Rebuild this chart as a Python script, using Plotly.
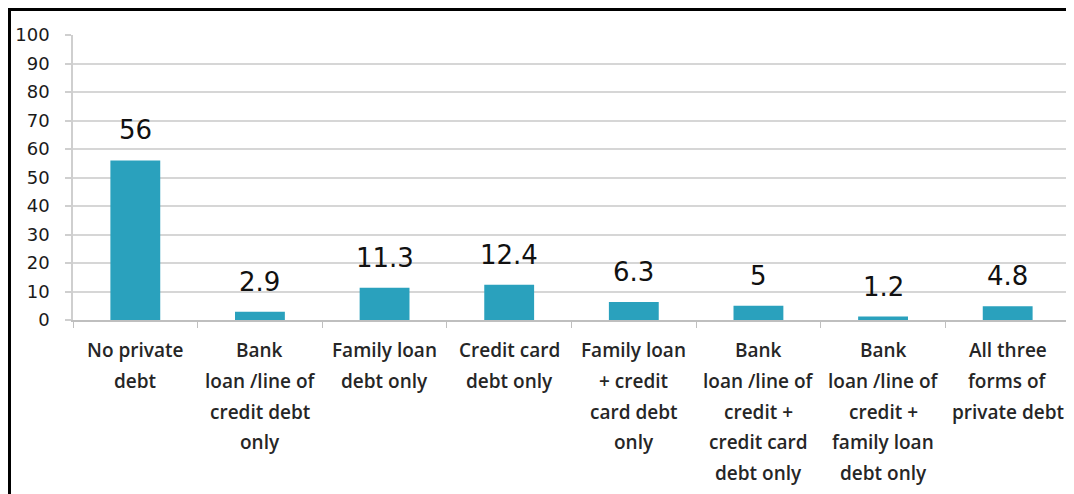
import plotly.graph_objects as go

categories = [
    "No private debt",
    "Bank loan/line of credit debt only",
    "Family loan debt only",
    "Credit card debt only",
    "Family loan + credit card debt only",
    "Bank loan/line of credit + credit card debt only",
    "Bank loan/line of credit + family loan debt only",
    "All three forms of private debt",
]
label_lines = [
    ["No private", "debt"],
    ["Bank", "loan /line of", "credit debt", "only"],
    ["Family loan", "debt only"],
    ["Credit card", "debt only"],
    ["Family loan", "+ credit", "card debt", "only"],
    ["Bank", "loan /line of", "credit +", "credit card", "debt only"],
    ["Bank", "loan /line of", "credit +", "family loan", "debt only"],
    ["All three", "forms of", "private debt"],
]
values = [56, 2.9, 11.3, 12.4, 6.3, 5, 1.2, 4.8]
value_labels = ["56", "2.9", "11.3", "12.4", "6.3", "5", "1.2", "4.8"]
y_ticks = [0, 10, 20, 30, 40, 50, 60, 70, 80, 90, 100]

# page has an 8px body margin; figure sized to fit the window
W, H = 1066, 486
ML, MR, MT, MB = 65, 4, 27, 174
PW, PH = W - ML - MR, H - MT - MB

def px_x(p):
    return (p - ML) / PW

def px_y(p):
    return (H - MB - p) / PH

fig = go.Figure()
fig.add_trace(go.Bar(
    x=categories, y=values,
    marker=dict(color="#2aa1bd", line=dict(width=0)),
    hoverinfo="x+y",
))

annotations = []
for c, v, t in zip(categories, values, value_labels):
    annotations.append(dict(
        x=c, y=v, xref="x", yref="y", text=t, showarrow=False,
        yanchor="bottom", yshift=13,
        font=dict(family="DejaVu Sans", size=26, color="#111111"),
    ))
for c, lines in zip(categories, label_lines):
    for i, ln in enumerate(lines):
        annotations.append(dict(
            x=c, y=0, xref="x", yref="y", text=ln, showarrow=False,
            yanchor="middle", yshift=-(30 + 30.8 * i),
            font=dict(family="Open Sans", size=19, color="#262626", weight=600),
        ))

fig.update_layout(
    width=W, height=H,
    margin=dict(l=ML, r=MR, t=MT, b=MB),
    paper_bgcolor="white", plot_bgcolor="white",
    bargap=0.6,
    showlegend=False,
    annotations=annotations,
    shapes=[
        dict(type="rect", xref="paper", yref="paper",
             x0=px_x(0), x1=px_x(3), y0=px_y(H), y1=px_y(0),
             fillcolor="black", line=dict(width=0), layer="above"),
        dict(type="rect", xref="paper", yref="paper",
             x0=px_x(0), x1=px_x(W), y0=px_y(3), y1=px_y(0),
             fillcolor="black", line=dict(width=0), layer="above"),
    ],
)
fig.update_xaxes(
    showticklabels=False, tickson="boundaries", ticks="outside",
    ticklen=6, tickcolor="#bfbfbf", tickwidth=1,
    showline=True, linecolor="#bfbfbf", linewidth=1.5,
    showgrid=False, zeroline=False,
)
fig.update_yaxes(
    range=[0, 100], tickvals=y_ticks,
    ticks="outside", ticklen=6, tickcolor="#cfcfcf", tickwidth=1.5,
    showline=True, linecolor="#cfcfcf", linewidth=1.5,
    showgrid=True, gridcolor="#d6d6d6", gridwidth=1.5,
    zeroline=False, ticklabelstandoff=12,
    tickfont=dict(family="DejaVu Sans", size=18, color="#1a1a1a"),
)

fig.write_html("out.html")
